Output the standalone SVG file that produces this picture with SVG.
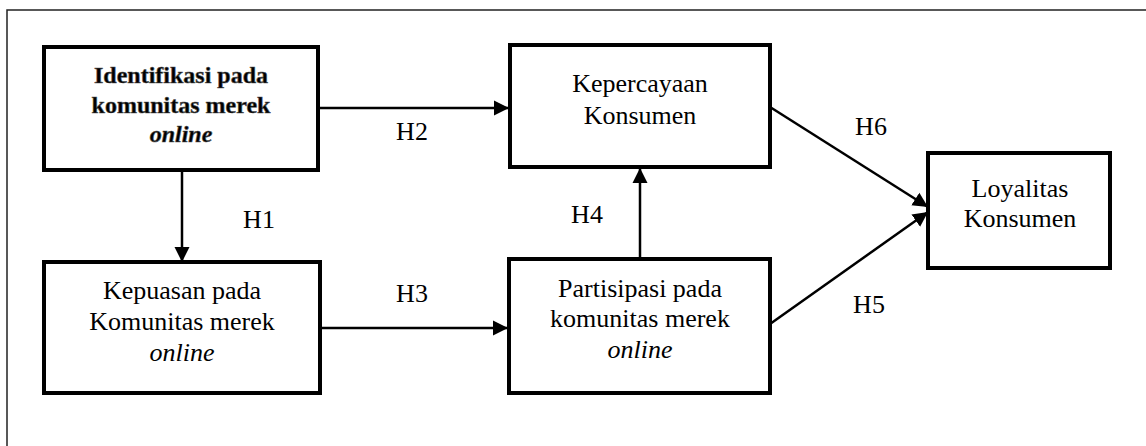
<svg xmlns="http://www.w3.org/2000/svg" width="1146" height="446" viewBox="0 0 1146 446">
<style>
.box{fill:#fff;stroke:#000;stroke-width:4}
.t{font-family:'Liberation Serif','Times New Roman',Tinos,'DejaVu Serif',serif;font-size:26px;fill:#000;text-anchor:middle}
.b{font-family:'Liberation Serif','Times New Roman',Tinos,'DejaVu Serif',serif;font-size:24px;font-weight:bold;fill:#000;stroke:#555;stroke-width:0.6;text-anchor:middle}
.i{font-style:italic}
.c{stroke:#000;stroke-width:2.5;fill:none}
</style>
<defs>
<marker id="ah" markerUnits="userSpaceOnUse" markerWidth="16" markerHeight="16" viewBox="0 0 16 16" refX="15" refY="8" orient="auto">
<path d="M0,0.5 L15,8 L0,15.5 Z" fill="#000"/>
</marker>
</defs>
<rect x="7" y="10" width="1160" height="460" fill="none" stroke="#222" stroke-width="1.5"/>
<g id="connectors">
<line class="c" x1="182" y1="170" x2="182" y2="262" marker-end="url(#ah)"/>
<line class="c" x1="318" y1="108" x2="509" y2="108" marker-end="url(#ah)"/>
<line class="c" x1="320" y1="328" x2="508" y2="328" marker-end="url(#ah)"/>
<line class="c" x1="640" y1="259" x2="640" y2="168" marker-end="url(#ah)"/>
<line class="c" x1="770" y1="107" x2="928" y2="207" marker-end="url(#ah)"/>
<line class="c" x1="770" y1="324" x2="928" y2="212" marker-end="url(#ah)"/>
<text class="t" x="259" y="228">H1</text>
<text class="t" x="412" y="140">H2</text>
<text class="t" x="412" y="302">H3</text>
<text class="t" x="587" y="223">H4</text>
<text class="t" x="869" y="313">H5</text>
<text class="t" x="871" y="135">H6</text>
</g>
<g id="identifikasi">
<rect class="box" x="44" y="47" width="274" height="123"/>
<text class="b" x="181" y="83">Identifikasi pada</text>
<text class="b" x="181" y="113">komunitas merek</text>
<text class="b i" x="181" y="142">online</text>
</g>
<g id="kepuasan">
<rect class="box" x="44" y="262" width="276" height="131"/>
<text class="t" x="182" y="299">Kepuasan pada</text>
<text class="t" x="182" y="330">Komunitas merek</text>
<text class="t i" x="182" y="361">online</text>
</g>
<g id="kepercayaan">
<rect class="box" x="510" y="45" width="260" height="122"/>
<text class="t" x="640" y="92">Kepercayaan</text>
<text class="t" x="640" y="124">Konsumen</text>
</g>
<g id="partisipasi">
<rect class="box" x="509" y="259" width="261" height="134"/>
<text class="t" x="640" y="297">Partisipasi pada</text>
<text class="t" x="640" y="327">komunitas merek</text>
<text class="t i" x="640" y="358">online</text>
</g>
<g id="loyalitas">
<rect class="box" x="928" y="153" width="182" height="115"/>
<text class="t" x="1020" y="197">Loyalitas</text>
<text class="t" x="1020" y="227">Konsumen</text>
</g>
</svg>
